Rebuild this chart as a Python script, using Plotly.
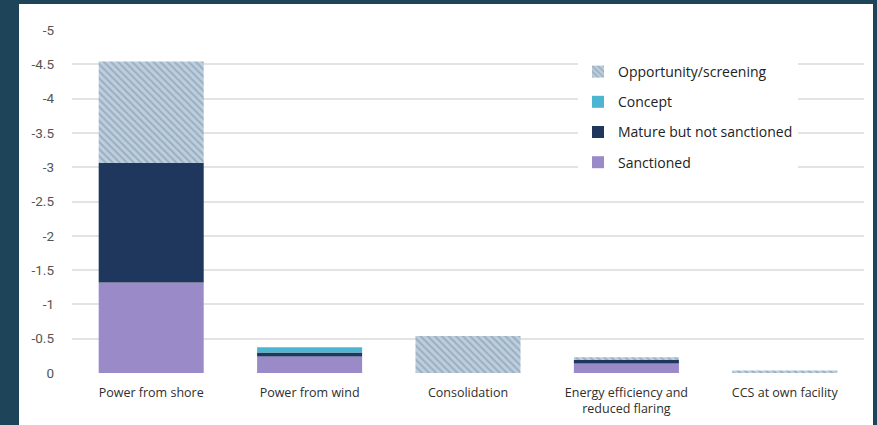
import plotly.graph_objects as go

categories = ["Power from shore", "Power from wind", "Consolidation",
              "Energy efficiency and<br>reduced flaring", "CCS at own facility"]
sanctioned = [-1.32, -0.24, 0.0, -0.14, 0.0]
mature = [-1.74, -0.06, 0.0, -0.05, 0.0]
concept = [0.0, -0.075, 0.0, 0.0, 0.0]
opportunity = [-1.48, 0.0, -0.54, -0.04, -0.035]

tick_vals = [0, -0.5, -1, -1.5, -2, -2.5, -3, -3.5, -4, -4.5, -5]
tick_text = ["0", "-0.5", "-1", "-1.5", "-2", "-2.5", "-3", "-3.5", "-4", "-4.5", "-5"]

W, H = 877, 425
L, R, T, B = 72, 13, 30, 52
pw, ph = W - L - R, H - T - B

fig = go.Figure()
fig.add_trace(go.Bar(name="Sanctioned", x=categories, y=sanctioned,
                     marker=dict(color="#9a8bc8", line=dict(width=0)),
                     legendgroup="a", legendrank=4))
fig.add_trace(go.Bar(name="Mature but not sanctioned", x=categories, y=mature,
                     marker=dict(color="#1f375c", line=dict(width=0)),
                     legendgroup="b", legendrank=3))
fig.add_trace(go.Bar(name="Concept", x=categories, y=concept,
                     marker=dict(color="#4cb6d2", line=dict(width=0)),
                     legendgroup="c", legendrank=2))
fig.add_trace(go.Bar(name="Opportunity/screening", x=categories, y=opportunity,
                     marker=dict(color="#b9cfe2", line=dict(width=0),
                                 pattern=dict(shape="\\", fgcolor="#868b91", bgcolor="#b9cfe2",
                                              size=5, solidity=0.4)),
                     legendgroup="d", legendrank=1))

def px_x(p):
    return (p - L) / pw

def px_y(p):
    return (H - B - p) / ph

fig.add_shape(type="rect", xref="paper", yref="paper",
              x0=px_x(19), x1=px_x(873), y0=px_y(425), y1=px_y(4),
              fillcolor="white", line=dict(width=0), layer="below")

fig.update_layout(
    width=W, height=H,
    margin=dict(l=L, r=R, t=T, b=B, autoexpand=False),
    paper_bgcolor="#1d4459",
    plot_bgcolor="white",
    barmode="relative",
    bargap=0.337,
    font=dict(family="Open Sans", color="#333333"),
    showlegend=True,
    legend=dict(traceorder="grouped", tracegroupgap=9,
                x=px_x(578), y=px_y(56), xanchor="left", yanchor="top",
                bgcolor="white", font=dict(size=14, color="#222222"),
                borderwidth=0),
    xaxis=dict(showgrid=False, showline=False, ticks="", automargin=False,
               tickfont=dict(size=12.5, color="#2e2e2e"), ticklabelstandoff=10),
    yaxis=dict(range=[0, -5], tickvals=tick_vals, ticktext=tick_text,
               showgrid=True, gridcolor="#e3e3e3", gridwidth=1.5,
               zeroline=False, showline=False, ticks="", automargin=False,
               tickfont=dict(family="Roboto", size=13.5, color="#555555"),
               ticklabelstandoff=17),
)

fig.write_html("out.html")
